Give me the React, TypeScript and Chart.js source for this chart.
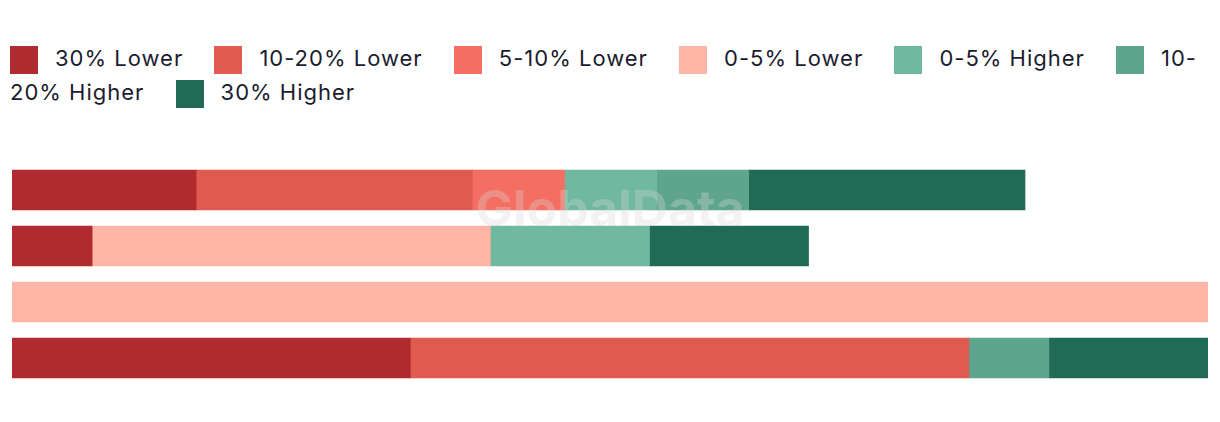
import React, { useEffect, useRef } from "react";
import { Chart, registerables } from "chart.js";

Chart.register(...registerables);

const categories = ["Row 1", "Row 2", "Row 3", "Row 4"];
const seriesNames = ["30% Lower", "10-20% Lower", "5-10% Lower", "0-5% Lower", "0-5% Higher", "10-20% Higher", "30% Higher"];
const seriesColors = ["#b02b30", "#e05a4f", "#f56e62", "#feb5a6", "#70b9a0", "#5fa58e", "#216a56"];
const lower30 = [15.4, 6.7, null, 33.3];
const lower10_20 = [23.1, null, null, 46.7];
const lower5_10 = [7.7, null, null, null];
const lower0_5 = [null, 33.3, 100, null];
const higher0_5 = [7.7, 13.3, null, null];
const higher10_20 = [7.7, null, null, 6.7];
const higher30 = [23.1, 13.3, null, 13.3];
const seriesValues = [lower30, lower10_20, lower5_10, lower0_5, higher0_5, higher10_20, higher30];

const watermark = {
  id: "watermark",
  afterDatasetsDraw(chart: any) {
    const { ctx, chartArea } = chart;
    ctx.save();
    ctx.font = "bold 50px Inter, 'Noto Sans', sans-serif";
    ctx.fillStyle = "rgba(215,215,215,0.32)";
    ctx.textAlign = "center";
    ctx.textBaseline = "middle";
    ctx.fillText("GlobalData", (chartArea.left + chartArea.right) / 2, chartArea.top + 49);
    ctx.restore();
  },
};

export default function App() {
  const ref = useRef<HTMLCanvasElement>(null);
  useEffect(() => {
    if (!ref.current) return;
    const chart = new Chart(ref.current, {
      type: "bar",
      data: {
        labels: categories,
        datasets: seriesNames.map((name, i) => ({
          label: name,
          data: seriesValues[i],
          backgroundColor: seriesColors[i],
          borderWidth: 0,
          barThickness: 40,
        })),
      },
      options: {
        indexAxis: "y",
        animation: false,
        responsive: true,
        maintainAspectRatio: false,
        layout: { padding: { left: 4, right: 4, top: 32, bottom: 24 } },
        plugins: { legend: { display: false }, tooltip: { enabled: false } },
        scales: {
          x: { stacked: true, min: 0, max: 100, display: false },
          y: { stacked: true, display: false },
        },
      },
      plugins: [watermark],
    });
    return () => chart.destroy();
  }, []);

  return (
    <div style={{ position: "relative", width: 1204, height: 406, fontFamily: "Inter, 'Noto Sans', sans-serif" }}>
      <div
        style={{
          position: "absolute",
          left: 2,
          top: 35,
          width: 1202,
          fontSize: 22,
          lineHeight: "34px",
          letterSpacing: "1px",
          color: "#1b1c2e",
        }}
      >
        {seriesNames.map((name, i) => (
          <React.Fragment key={name}>
            <span
              style={{
                display: "inline-block",
                width: 28,
                height: 28,
                marginTop: 3,
                verticalAlign: "top",
                background: seriesColors[i],
                marginRight: 17,
              }}
            />
            <span style={{ marginRight: 24, position: "relative", top: -2 }}>{name}</span>{" "}
          </React.Fragment>
        ))}
      </div>
      <div style={{ position: "absolute", left: 0, top: 122, width: 1204, height: 280 }}>
        <canvas ref={ref} />
      </div>
    </div>
  );
}
